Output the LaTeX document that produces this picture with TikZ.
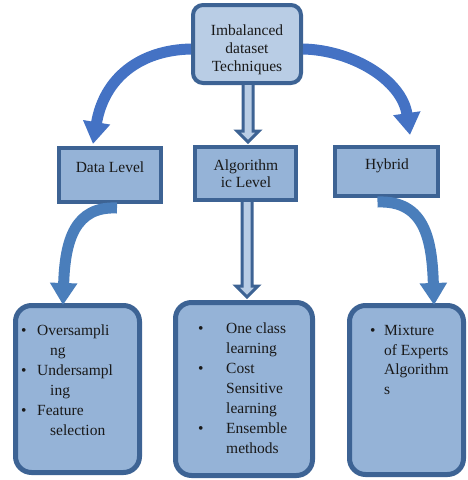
\documentclass[tikz,border=0pt]{standalone}
\usepackage{fontspec}
\setmainfont{Liberation Serif}
\usetikzlibrary{arrows.meta,calc}

\definecolor{boxborder}{RGB}{61,99,148}
\definecolor{boxfill}{RGB}{149,179,215}
\definecolor{topfill}{RGB}{185,205,229}
\definecolor{arrowA}{RGB}{68,114,196}
\definecolor{arrowB}{RGB}{74,126,187}

\tikzset{
  topbox/.style={draw=boxborder, fill=topfill, line width=4pt, rounded corners=10pt,
    minimum width=108pt, minimum height=78pt, inner sep=0pt},
  levelbox/.style={draw=boxborder, fill=boxfill, line width=4pt, inner sep=0pt},
  listbox/.style={draw=boxborder, fill=boxfill, line width=5pt, rounded corners=16pt, inner sep=0pt},
  txt/.style={font=\fontsize{15.5}{19}\selectfont, inner sep=0pt, anchor=base west, text=black!90},
  ctxt/.style={txt, anchor=base},
  bendarrow/.style={line width=11pt, -{Triangle[width=26pt,length=22pt]}},
  blockarrow/.style={draw=boxborder, fill=topfill, line width=3pt, line join=miter},
}

\begin{document}
\begin{tikzpicture}[x=1pt,y=-1pt]
\useasboundingbox (0,0) rectangle (467,480);

% boxes
\node[topbox] (top) at (247,44) {};
\node[levelbox, minimum width=102pt, minimum height=54pt] (dl) at (110,175) {};
\node[levelbox, minimum width=101pt, minimum height=53pt] (al) at (245.5,173.5) {};
\node[levelbox, minimum width=103pt, minimum height=49pt] (hy) at (386.5,171.5) {};
\node[listbox, minimum width=124pt, minimum height=167pt] (bl) at (77.5,389) {};
\node[listbox, minimum width=137pt, minimum height=173pt] (bm) at (244,389) {};
\node[listbox, minimum width=114pt, minimum height=169pt] (br) at (406.5,390) {};

% curved arrows from the root
\coordinate (tl) at ($(top.west)+(0,5)$);
\coordinate (tr) at ($(top.east)+(0,5)$);
\coordinate (dltip) at ($(dl.north west)+(36,-2)$);
\coordinate (hytip) at ($(hy.north west)+(77,-10)$);
\draw[bendarrow, arrowA] (tl) .. controls (140,50) and (104,78) .. (dltip);
\draw[bendarrow, arrowA] (tr) .. controls (352,50) and (402,80) .. (hytip);

% curved arrows to the lists
\coordinate (dlout) at ($(dl.south)+(7,4)$);
\coordinate (hyout) at ($(hy.south)+(-9,4)$);
\coordinate (bltip) at ($(bl.north west)+(50,2)$);
\coordinate (brtip) at ($(br.north west)+(87,2)$);
\draw[bendarrow, arrowB] (dlout) .. controls (75,206) and (65,240) .. (bltip);
\draw[bendarrow, arrowB] (hyout) .. controls (425,200) and (432,240) .. (brtip);

% straight block arrows in the middle column
\coordinate (m1) at (top.south -| 248,0);
\coordinate (m2) at ($(al.north -| 248,0)+(0,-3)$);
\filldraw[blockarrow] ($(m1)+(-5,0)$) -- ($(m2)+(-5,-11)$) -- ($(m2)+(-11,-11)$) -- (m2)
  -- ($(m2)+(11,-11)$) -- ($(m2)+(5,-11)$) -- ($(m1)+(5,0)$);
\coordinate (m3) at (al.south -| 247,0);
\coordinate (m4) at ($(bm.north -| 247,0)+(0,-3)$);
\filldraw[blockarrow] ($(m3)+(-5,0)$) -- ($(m4)+(-5,-11)$) -- ($(m4)+(-11,-11)$) -- (m4)
  -- ($(m4)+(11,-11)$) -- ($(m4)+(5,-11)$) -- ($(m3)+(5,0)$);

% labels
\node[ctxt] (t1) at (247,35) {Imbalanced};
\node[ctxt] (t2) at (247,53) {dataset};
\node[ctxt] (t3) at (247,71) {Techniques};
\node[ctxt] (d1) at (110,172) {Data Level};
\node[ctxt] (a1) at (246,170) {Algorithm};
\node[ctxt] (a2) at (246,187) {ic Level};
\node[ctxt] (h1) at (387,169) {Hybrid};

% left list
\node[txt] (lb1) at (21,335) {\textbullet};
\node[txt] (l1) at (37,335) {Oversampli};
\node[txt] (l2) at (50,355) {ng};
\node[txt] (lb2) at (21,375) {\textbullet};
\node[txt] (l3) at (37,375) {Undersampl};
\node[txt] (l4) at (50,395) {ing};
\node[txt] (lb3) at (21,415) {\textbullet};
\node[txt] (l5) at (37,415) {Feature};
\node[txt] (l6) at (50,435) {selection};

% middle list
\node[txt] (mb1) at (198,333) {\textbullet};
\node[txt] (c1) at (226,333) {One class};
\node[txt] (c2) at (226,353) {learning};
\node[txt] (mb2) at (198,373) {\textbullet};
\node[txt] (c3) at (226,373) {Cost};
\node[txt] (c4) at (226,393) {Sensitive};
\node[txt] (c5) at (226,413) {learning};
\node[txt] (mb3) at (198,433) {\textbullet};
\node[txt] (c6) at (226,433) {Ensemble};
\node[txt] (c7) at (226,453) {methods};

% right list
\node[txt] (rb1) at (370,335) {\textbullet};
\node[txt] (r1) at (384,335) {Mixture};
\node[txt] (r2) at (384,355) {of Experts};
\node[txt] (r3) at (384,374) {Algorithm};
\node[txt] (r4) at (384,394) {s};
\end{tikzpicture}
\end{document}
